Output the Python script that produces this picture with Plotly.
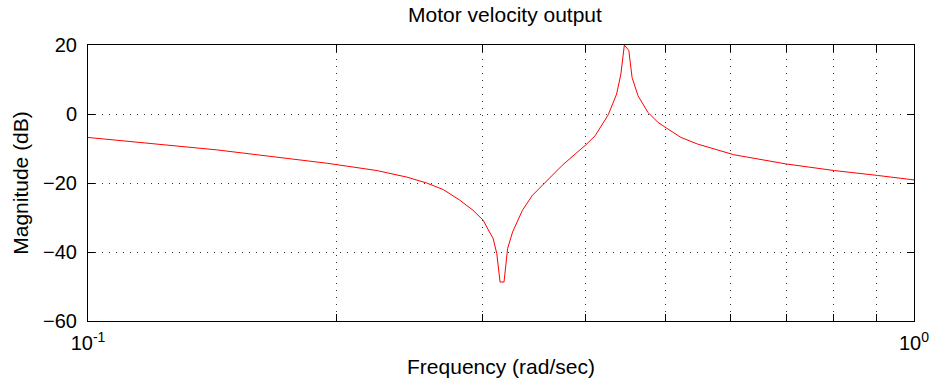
import plotly.graph_objects as go

# Frequency (rad/sec) and magnitude (dB)
freq = [0.1, 0.1432, 0.1951, 0.2138, 0.2239, 0.2433, 0.2571, 0.2692, 0.2816,
        0.2925, 0.3009, 0.3062, 0.3093, 0.3125, 0.3154, 0.3189, 0.3221, 0.3266,
        0.3357, 0.3451, 0.3581, 0.3750, 0.3889, 0.4008, 0.4111, 0.4265, 0.4365,
        0.4417, 0.4460, 0.4516, 0.4557, 0.4633, 0.4762, 0.4896, 0.5010, 0.5223,
        0.5468, 0.5728, 0.6050, 0.7009, 0.8014, 0.9028, 1.0]
mag_db = [-6.8, -10.4, -14.3, -15.6, -16.4, -18.3, -20.0, -21.9, -24.9,
          -27.9, -30.8, -34.2, -36.0, -40.4, -48.7, -48.7, -39.0, -34.2,
          -27.9, -23.6, -19.8, -14.9, -11.6, -8.9, -6.3, -0.2, 5.8,
          11.6, 20.0, 18.4, 10.6, 5.3, 0.5, -2.4, -4.0, -6.8,
          -8.7, -10.1, -11.8, -14.5, -16.4, -17.8, -19.1]

x_tickvals = [0.1, 0.2, 0.3, 0.4, 0.5, 0.6, 0.7, 0.8, 0.9, 1.0]
x_ticktext = ["10<sup>-1</sup>", "", "", "", "", "", "", "", "", "10<sup>0</sup>"]
y_tickvals = [-60, -40, -20, 0, 20]

title_text = "Motor velocity output"
x_title = "Frequency (rad/sec)"
y_title = "Magnitude (dB)"

font_family = "Liberation Sans, Arial, sans-serif"

fig = go.Figure()
fig.add_trace(go.Scatter(x=freq, y=mag_db, mode="lines",
                         line=dict(color="#ff0000", width=1),
                         showlegend=False, hoverinfo="skip"))

axis_common = dict(
    showline=True, linecolor="black", linewidth=1, mirror="ticks",
    ticks="inside", ticklen=7, tickcolor="black",
    showgrid=True, gridcolor="#333333", gridwidth=1, griddash="1px,6px",
    zeroline=False, ticklabeloverflow="allow",
    tickfont=dict(family=font_family, size=20, color="black"),
)

fig.update_xaxes(type="log", range=[-1, 0], tickmode="array",
                 tickvals=x_tickvals, ticktext=x_ticktext,
                 ticklabelstandoff=4,
                 title=dict(text=x_title, font=dict(family=font_family, size=21, color="black"),
                            standoff=6),
                 **axis_common)
fig.update_yaxes(range=[-60, 20], tickmode="array", tickvals=y_tickvals,
                 ticklabelstandoff=6,
                 title=dict(text=y_title, font=dict(family=font_family, size=21, color="black"),
                            standoff=8),
                 **axis_common)

fig.update_layout(
    width=941, height=387,
    margin=dict(l=88, r=19, t=45, b=65),
    paper_bgcolor="white", plot_bgcolor="white",
    title=dict(text=title_text, x=(88 + 922) / 2 / 941, xanchor="center",
               y=1 - 15 / 387, yanchor="middle",
               font=dict(family=font_family, size=21, color="black")),
)

fig.write_html("out.html")
